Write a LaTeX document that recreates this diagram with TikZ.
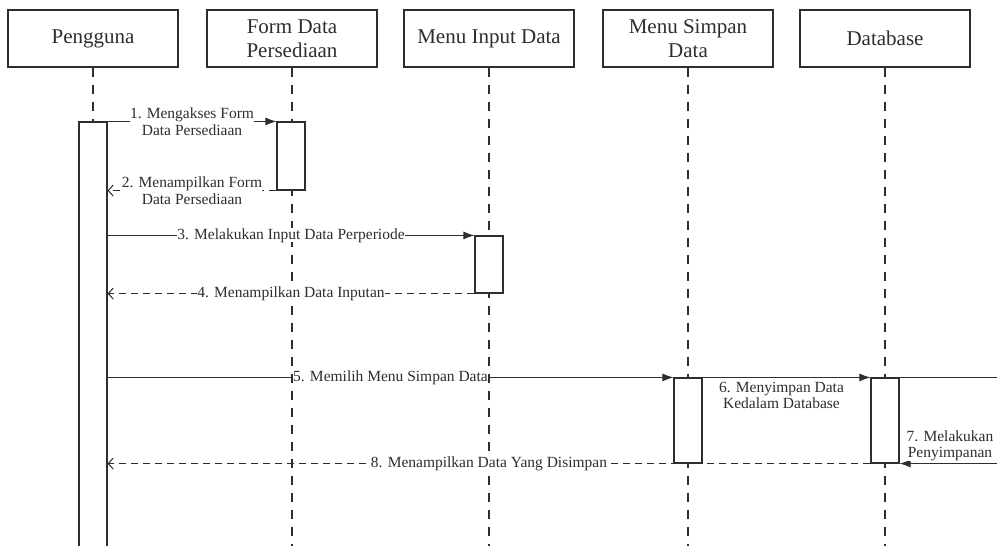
\documentclass[tikz,border=0pt]{standalone}
\usepackage{fontspec}
\setmainfont{Liberation Serif}
\usetikzlibrary{arrows.meta,positioning,calc}
\definecolor{umlink}{HTML}{2E2E2E}
\tikzset{
  seqactor/.style={draw=umlink,line width=1.2pt,fill=white,minimum width=170pt,minimum height=57pt,align=center,font=\fontsize{21}{23.5}\selectfont,text=umlink},
  seqlife/.style={draw=umlink,line width=1.1pt,dash pattern=on 9pt off 8pt},
  seqbar/.style={draw=umlink,line width=1.1pt,fill=white,minimum width=28pt,inner sep=0pt},
  seqcall/.style={-{Latex[length=11pt,width=8pt]},draw=umlink,line width=1pt},
  seqback/.style={-{Straight Barb[length=5pt,width=11pt]},draw=umlink,line width=1pt,dash pattern=on 7pt off 5pt},
  seqlabel/.style={font=\fontsize{15.5}{16.5}\selectfont,text=umlink,fill=white,inner sep=0pt,align=center}
}

\begin{document}
\begin{tikzpicture}[x=1pt,y=-1pt]
\useasboundingbox[fill=white] (0,0) rectangle (997,546);
\coordinate (bot) at (0,546);
\coordinate (loop) at (1030,0);
\node[seqactor] (p) at (93,38.5) {Pengguna};
\node[seqactor] (f) at (292,38.5) {Form Data\\Persediaan};
\node[seqactor] (i) at (489,38.5) {Menu Input Data};
\node[seqactor] (s) at (688,38.5) {Menu Simpan\\Data};
\node[seqactor] (d) at (885,38.5) {Database};
\foreach \n in {p,f,i,s,d}{\draw[seqlife] (\n.south) -- (\n.south |- bot);}
% activation bars
\node[seqbar,minimum height=440pt] (ap) at (93,342) {};
\node[seqbar,minimum height=68pt] (af) at (291,156) {};
\node[seqbar,minimum height=57pt] (ai) at (489,264.5) {};
\node[seqbar,minimum height=85pt] (as) at (688,420.5) {};
\node[seqbar,minimum height=85pt] (ad) at (885,420.5) {};
% messages
\draw[seqcall] (ap.north east) -- node[seqlabel]{1. Mengakses Form\\Data Persediaan} (af.north west);
\draw[seqback] (af.south west) -- node[seqlabel]{2. Menampilkan Form\\Data Persediaan} (ap.east |- af.south west);
\draw[seqcall] (ap.east |- ai.north west) -- node[seqlabel]{3. Melakukan Input Data Perperiode} (ai.north west);
\draw[seqback] (ai.south west) -- node[seqlabel]{4. Menampilkan Data Inputan} (ap.east |- ai.south west);
\draw[seqcall] (ap.east |- as.north west) -- node[seqlabel]{5. Memilih Menu Simpan Data} (as.north west);
\draw[seqcall] (as.north east) -- node[seqlabel,pos=0.47,below=4pt]{6. Menyimpan Data\\Kedalam Database} (ad.north west);
\draw[seqcall] (ad.north east) -- (ad.north east -| loop) |- (ad.south east);
\node[seqlabel] (m7) at (950,446) {7. Melakukan\\Penyimpanan};
\draw[seqback] (ad.south west) -- node[seqlabel]{8. Menampilkan Data Yang Disimpan} (ap.east |- ad.south west);
\end{tikzpicture}
\end{document}
